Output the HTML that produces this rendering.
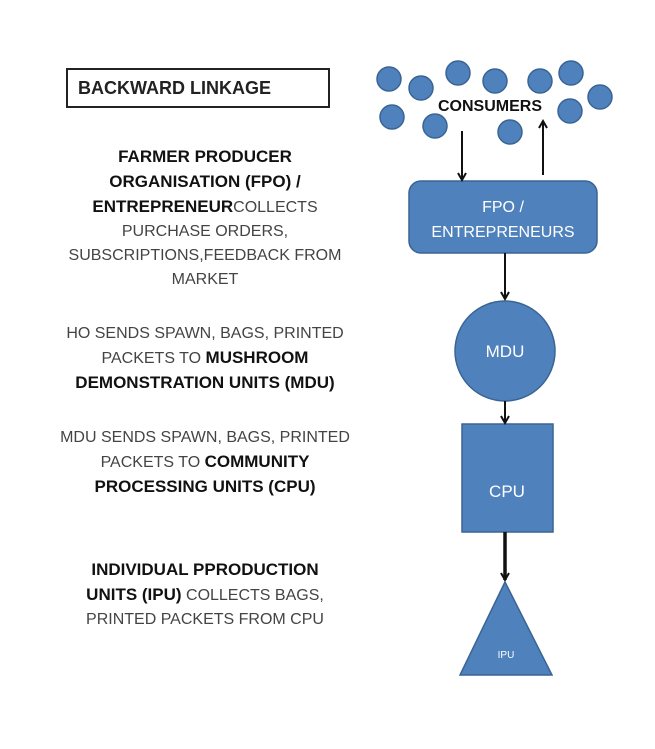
<!DOCTYPE html><html><head><style>
body{margin:0;background:#fff;width:655px;height:749px;position:relative;overflow:hidden;font-family:"Liberation Sans",sans-serif}
.t{position:absolute;left:40px;width:330px;text-align:center;font-size:16px;line-height:24px;color:#444}
.t b{color:#111}
</style></head><body>
<div style="position:absolute;left:66px;top:68px;width:258px;height:36px;border:2px solid #222;font-weight:bold;font-size:18px;line-height:36px;padding-left:10px;box-sizing:content-box;width:250px;color:#222">BACKWARD LINKAGE</div>
<div class="t" style="top:145px"><b style="font-size:17px">FARMER PRODUCER<br>ORGANISATION (FPO) /<br>ENTREPRENEUR</b>COLLECTS<br>PURCHASE ORDERS,<br>SUBSCRIPTIONS,FEEDBACK FROM<br>MARKET</div>
<div class="t" style="top:322px">HO SENDS SPAWN, BAGS, PRINTED<br>PACKETS TO <b style="font-size:17px">MUSHROOM<br>DEMONSTRATION UNITS (MDU)</b></div>
<div class="t" style="top:426px">MDU SENDS SPAWN, BAGS, PRINTED<br>PACKETS TO <b style="font-size:17px">COMMUNITY<br>PROCESSING UNITS (CPU)</b></div>
<div class="t" style="top:558px"><b style="font-size:17px">INDIVIDUAL PPRODUCTION<br>UNITS (IPU)</b> COLLECTS BAGS,<br>PRINTED PACKETS FROM CPU</div>
<svg width="655" height="749" style="position:absolute;left:0;top:0">
<defs><marker id="a" markerWidth="10" markerHeight="10" refX="8" refY="5" orient="auto" markerUnits="userSpaceOnUse"><path d="M1,1 L8,5 L1,9" fill="none" stroke="#111" stroke-width="2"/></marker></defs>
<g fill="#4f81bd" stroke="#3a6494" stroke-width="1.5">
<circle cx="389" cy="79" r="12"/><circle cx="421" cy="88" r="12"/><circle cx="458" cy="73" r="12"/><circle cx="495" cy="81" r="12"/><circle cx="540" cy="81" r="12"/><circle cx="571" cy="73" r="12"/><circle cx="600" cy="97" r="12"/><circle cx="392" cy="117" r="12"/><circle cx="435" cy="126" r="12"/><circle cx="510" cy="132" r="12"/><circle cx="570" cy="111" r="12"/>
<rect x="409" y="181" width="188" height="72" rx="12"/>
<circle cx="505" cy="351" r="50"/>
<rect x="462" y="424" width="91" height="108"/>
<path d="M505,582 L552,675 L460,675 Z"/>
</g>
<text x="490" y="111" text-anchor="middle" font-size="16" font-weight="bold" fill="#111" font-family="Liberation Sans">CONSUMERS</text>
<g stroke="#111" stroke-width="2">
<line x1="462" y1="131" x2="462" y2="180" marker-end="url(#a)"/>
<line x1="543" y1="175" x2="543" y2="121" marker-end="url(#a)"/>
<line x1="505" y1="253" x2="505" y2="299" marker-end="url(#a)"/>
<line x1="505" y1="401" x2="505" y2="423" marker-end="url(#a)"/>
<line x1="505" y1="532" x2="505" y2="580" stroke-width="3.5" marker-end="url(#a)"/>
</g>
<g fill="#fff" font-family="Liberation Sans" text-anchor="middle">
<text x="503" y="212" font-size="16">FPO /</text>
<text x="503" y="237" font-size="16">ENTREPRENEURS</text>
<text x="505" y="357" font-size="17">MDU</text>
<text x="507" y="497" font-size="17">CPU</text>
<text x="506" y="658" font-size="10">IPU</text>
</g>
</svg>
</body></html>
